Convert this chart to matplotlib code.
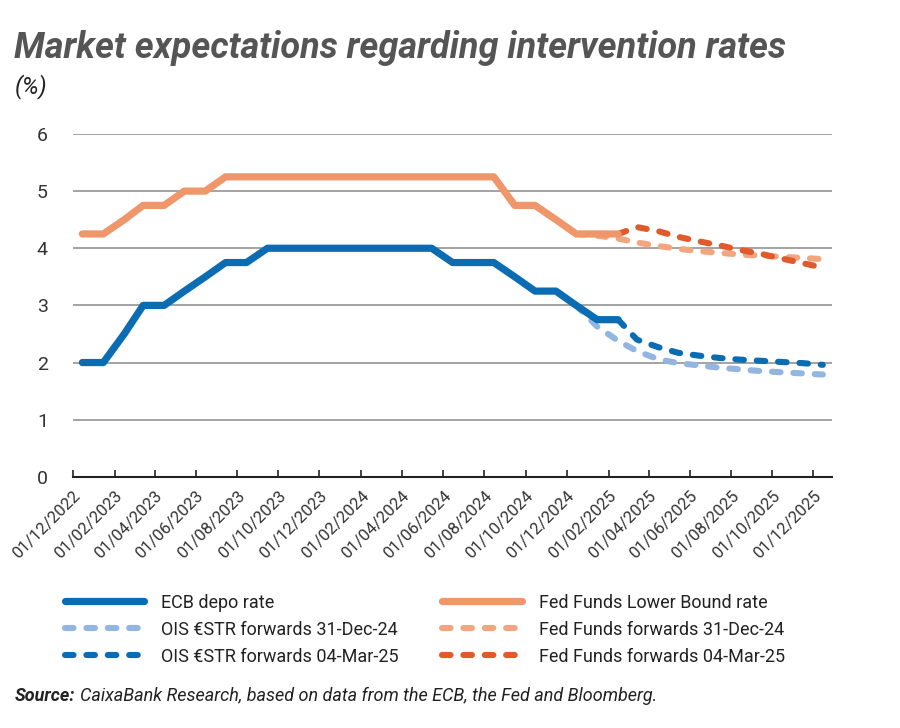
import matplotlib
matplotlib.use('Agg')
import matplotlib.pyplot as plt
import matplotlib.transforms as mtransforms
from matplotlib import font_manager
import pandas as pd

# monthly observations, plotted at mid-month
ACTUAL_MONTHS = ['2022-12', '2023-01', '2023-02', '2023-03', '2023-04', '2023-05', '2023-06',
                 '2023-07', '2023-08', '2023-09', '2023-10', '2023-11', '2023-12', '2024-01',
                 '2024-02', '2024-03', '2024-04', '2024-05', '2024-06', '2024-07', '2024-08',
                 '2024-09', '2024-10', '2024-11', '2024-12', '2025-01', '2025-02']
ecb_depo = [2.0, 2.0, 2.5, 3.0, 3.0, 3.25, 3.5, 3.75, 3.75, 4.0, 4.0, 4.0, 4.0, 4.0,
            4.0, 4.0, 4.0, 4.0, 3.75, 3.75, 3.75, 3.5, 3.25, 3.25, 3.0, 2.75, 2.75]
fed_lower = [4.25, 4.25, 4.5, 4.75, 4.75, 5.0, 5.0, 5.25, 5.25, 5.25, 5.25, 5.25, 5.25, 5.25,
             5.25, 5.25, 5.25, 5.25, 5.25, 5.25, 5.25, 4.75, 4.75, 4.5, 4.25, 4.25, 4.25]

FWD_DEC_MONTHS = ['2024-12', '2025-01', '2025-02', '2025-03', '2025-04', '2025-05', '2025-06',
                  '2025-07', '2025-08', '2025-09', '2025-10', '2025-11', '2025-12']
ois_dec24 = [3.0, 2.63, 2.38, 2.2, 2.06, 1.99, 1.95, 1.91, 1.88, 1.85, 1.83, 1.81, 1.79]
ff_dec24 = [4.25, 4.22, 4.17, 4.1, 4.04, 3.99, 3.95, 3.92, 3.89, 3.87, 3.85, 3.83, 3.81]

FWD_MAR_MONTHS = ['2025-02', '2025-03', '2025-04', '2025-05', '2025-06', '2025-07',
                  '2025-08', '2025-09', '2025-10', '2025-11', '2025-12']
ois_mar25 = [2.75, 2.4, 2.27, 2.17, 2.12, 2.08, 2.05, 2.03, 2.01, 1.99, 1.96]
ff_mar25 = [4.25, 4.37, 4.3, 4.2, 4.12, 4.05, 3.97, 3.9, 3.82, 3.74, 3.66]

LABELS = ['ECB depo rate', 'OIS €STR forwards 31-Dec-24', 'OIS €STR forwards 04-Mar-25',
          'Fed Funds Lower Bound rate', 'Fed Funds forwards 31-Dec-24', 'Fed Funds forwards 04-Mar-25']

BLUE = '#0a6db3'
LIGHT_BLUE = '#92b6e0'
ORANGE = '#f0966b'
LIGHT_ORANGE = '#f2a67f'
DARK_ORANGE = '#e05a2b'

installed = {f.name for f in font_manager.fontManager.ttflist}
FONT = ['Liberation Sans Narrow', 'DejaVu Sans'] if 'Liberation Sans Narrow' in installed else ['Roboto', 'DejaVu Sans']
plt.rcParams['font.family'] = FONT


def mid_month(months):
    return pd.to_datetime([m + '-15' for m in months])


fig = plt.figure(figsize=(9, 7.28), dpi=100)
ax = fig.add_axes([0.081, 0.345, 0.843, 0.471])

solid = dict(lw=5.2, solid_capstyle='round', solid_joinstyle='round')
dash = dict(lw=4.4, dashes=(1.4, 2.1), dash_capstyle='round')

l1, = ax.plot(mid_month(ACTUAL_MONTHS), ecb_depo, color=BLUE, zorder=4, **solid)
l4, = ax.plot(mid_month(ACTUAL_MONTHS), fed_lower, color=ORANGE, zorder=4, **solid)
l2, = ax.plot(mid_month(FWD_DEC_MONTHS), ois_dec24, color=LIGHT_BLUE, zorder=3, **dash)
l5, = ax.plot(mid_month(FWD_DEC_MONTHS), ff_dec24, color=LIGHT_ORANGE, zorder=3, **dash)
l3, = ax.plot(mid_month(FWD_MAR_MONTHS), ois_mar25, color=BLUE, zorder=3, **dash)
l6, = ax.plot(mid_month(FWD_MAR_MONTHS), ff_mar25, color=DARK_ORANGE, zorder=3, **dash)

ax.set_ylim(0, 6)
ax.set_yticks(range(0, 7))
ax.set_xlim(pd.Timestamp('2022-12-01'), pd.Timestamp('2025-12-28'))
ticks = pd.date_range('2022-12-01', '2025-12-01', freq='2MS')
ax.set_xticks(ticks)
ax.set_xticklabels([t.strftime('%d/%m/%Y') for t in ticks], rotation=45, ha='right',
                   rotation_mode='anchor', fontsize=12, color='#333333')
shift = mtransforms.ScaledTranslation(12 / 100, 0, fig.dpi_scale_trans)
for lab in ax.get_xticklabels():
    lab.set_transform(lab.get_transform() + shift)
ax.grid(axis='y', color='#8a8a8a', lw=1.1)
ax.set_axisbelow(True)
for s in ['top', 'right', 'left']:
    ax.spines[s].set_visible(False)
ax.spines['bottom'].set_color('#222222')
ax.spines['bottom'].set_linewidth(1.5)
ax.tick_params(axis='x', direction='in', length=5, width=1.2, color='#222222', pad=8)
ax.tick_params(axis='y', length=0, labelsize=14, labelcolor='#333333', pad=18)

fig.text(0.016, 0.92, 'Market expectations regarding intervention rates', fontsize=26,
         fontweight='bold', fontstyle='italic', color='#555555')
fig.text(0.016, 0.872, '(%)', fontsize=17, fontstyle='italic', color='#222222')

leg = fig.legend([l1, l2, l3, l4, l5, l6], LABELS, ncol=2, loc='upper left',
                 bbox_to_anchor=(0.054, 0.207), frameon=False, fontsize=13,
                 handlelength=4.4, handletextpad=0.95, columnspacing=2.4, labelspacing=0.5,
                 labelcolor='#222222')

fig.text(0.016, 0.037, 'Source:', fontsize=13, fontweight='bold', fontstyle='italic',
         color='#222222')
fig.text(0.089, 0.037, 'CaixaBank Research, based on data from the ECB, the Fed and Bloomberg.',
         fontsize=13, fontstyle='italic', color='#222222')

fig.savefig('out.png', dpi=100)
